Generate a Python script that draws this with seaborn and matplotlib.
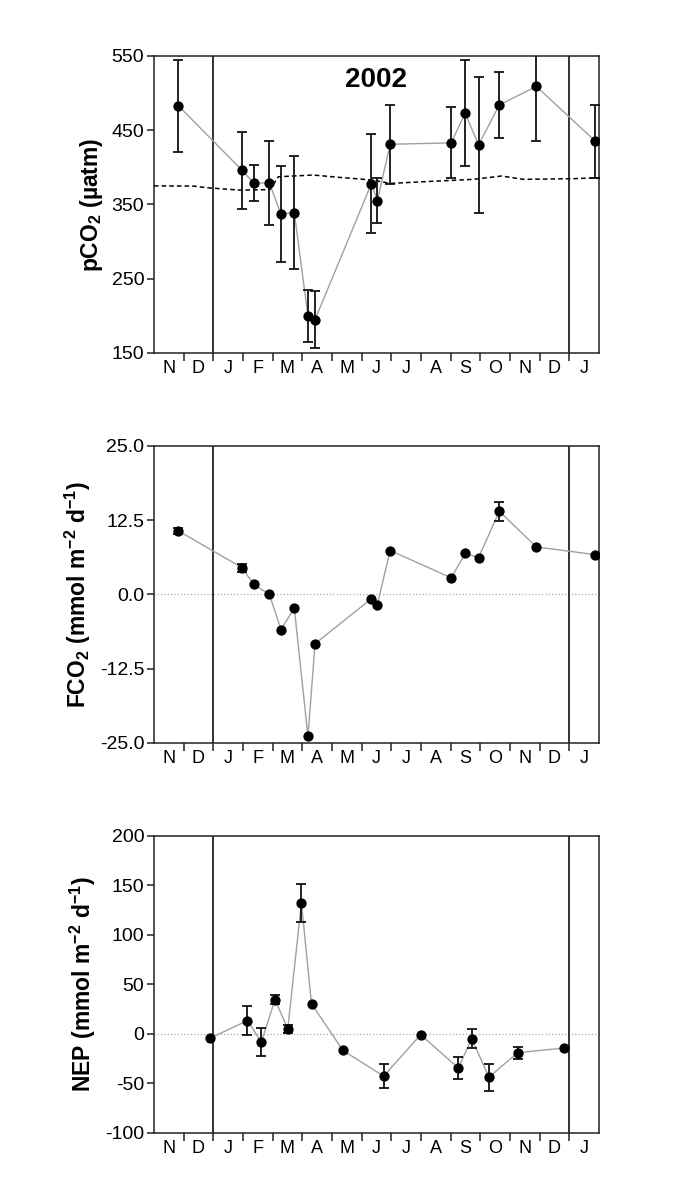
import numpy as np
import pandas as pd
import matplotlib
matplotlib.use("Agg")
import matplotlib.pyplot as plt
import seaborn as sns

# x positions are months since 1 Nov 2001 (0 = start of Nov 2001)
month_labels = ["N", "D", "J", "F", "M", "A", "M", "J", "J", "A", "S", "O", "N", "D", "J"]

# --- pCO2 ---
pco2_month = [0.82, 2.97, 3.36, 3.89, 4.28, 4.73, 5.19, 5.43, 7.33, 7.53, 7.96,
              10.02, 10.49, 10.94, 11.64, 12.89, 14.88]
pco2 = [483, 396, 379, 379, 337, 339, 200, 195, 378, 355, 431,
        433, 473, 430, 484, 509, 435]
pco2_err = [62, 52, 24, 57, 65, 76, 35, 38, 67, 30, 53,
            48, 71, 91, 45, 73, 49]

# atmospheric pCO2 (dashed)
atm_month = [0, 1.33, 1.78, 2.9, 3.91, 4.19, 5.37, 6.27, 7.39, 7.96, 9.08,
             10.76, 11.72, 12.45, 14.13, 15]
atm_pco2 = [375, 374.7, 372.5, 369.3, 370, 387.3, 389.6, 386.4, 382.8, 378.3, 380.6,
            383.8, 388.3, 383.8, 384.7, 386]

# --- FCO2 ---
fco2 = [10.7, 4.5, 1.7, 0.0, -5.9, -2.3, -23.9, -8.3, -0.7, -1.7, 7.4,
        2.8, 6.9, 6.2, 14.0, 8.0, 6.7]
fco2_err = [0.5, 0.7, 0, 0, 0, 0, 0, 0, 0, 0, 0,
            0, 0, 0, 1.6, 0, 0]

# --- NEP ---
nep_month = [1.88, 3.15, 3.62, 4.08, 4.51, 4.97, 5.31, 6.37, 7.74, 8.99,
             10.26, 10.71, 11.29, 12.26, 13.82]
nep = [-4.4, 13.5, -8.1, 34.8, 5.1, 132.4, 30.4, -16.6, -42.6, -0.7,
       -34.5, -4.7, -43.6, -18.9, -14.2]
nep_err = [0, 15, 14.5, 5, 4.4, 19, 0, 0, 12, 0,
           11, 9.8, 13.5, 6, 0]

year_bounds = [2, 14]

sns.set_theme(style="ticks")
plt.rcParams['font.family'] = ['Liberation Sans', 'DejaVu Sans']
plt.rcParams['mathtext.fontset'] = 'custom'
plt.rcParams['mathtext.rm'] = 'Liberation Sans'
plt.rcParams['mathtext.bf'] = 'Liberation Sans:bold'
for key in ['text.color', 'axes.labelcolor', 'xtick.color', 'ytick.color']:
    plt.rcParams[key] = 'black'

fig = plt.figure(figsize=(6.85, 12.03), dpi=100)
left, width, height = 0.2248, 0.6496, 0.2469
ax1 = fig.add_axes([left, 0.7066, width, height])
ax2 = fig.add_axes([left, 0.3824, width, height])
ax3 = fig.add_axes([left, 0.0582, width, height])


def draw_panel(ax, x, y, err, ylim, yticks, yfmt, ylabel, zero_line):
    df = pd.DataFrame({"month": x, "value": y})
    if zero_line:
        ax.axhline(0, color="#aaaaaa", lw=0.9, ls=":", zorder=1)
    for b in year_bounds:
        ax.axvline(b, color="#222222", lw=1.3, zorder=2)
    sns.lineplot(data=df, x="month", y="value", ax=ax, color="#a0a0a0",
                 lw=1.0, sort=False, zorder=3)
    e = np.array(err, dtype=float)
    mask = e > 0
    ax.errorbar(np.array(x)[mask], np.array(y)[mask], yerr=e[mask], fmt="none",
                ecolor="#111111", elinewidth=1.3, capsize=3.8, capthick=1.3, zorder=4)
    sns.scatterplot(data=df, x="month", y="value", ax=ax, color="black",
                    s=55, edgecolor="black", linewidth=0, zorder=5)
    ax.set_xlim(0, 15)
    ax.set_ylim(*ylim)
    ax.set_yticks(yticks)
    ax.set_yticklabels([yfmt.format(v) for v in yticks])
    ax.set_xticks(np.arange(1, 15))
    ax.set_xticklabels([])
    ax.set_xticks(np.arange(15) + 0.5, minor=True)
    ax.set_xticklabels(month_labels, minor=True)
    ax.tick_params(axis="x", which="major", direction="out", length=6, width=1.1, color="#222222")
    ax.tick_params(axis="x", which="minor", length=0, pad=5, labelsize=13)
    ax.tick_params(axis="y", direction="out", length=5, width=1.1, color="#222222",
                   labelsize=14, pad=2)
    ax.set_xlabel("")
    ax.set_ylabel(ylabel, fontsize=16.5, fontweight="bold", labelpad=5)
    for s in ax.spines.values():
        s.set_visible(True)
        s.set_linewidth(1.1)
        s.set_color("#222222")


draw_panel(ax1, pco2_month, pco2, pco2_err, (150, 550), [150, 250, 350, 450, 550],
           "{:.0f}", r"$\mathbf{pCO_2}$ (µatm)", False)
ax1.plot(atm_month, atm_pco2, color="black", lw=1.1, ls=(0, (3, 2)), zorder=3)
ax1.text(7.5, 517, "2002", ha="center", va="center", fontsize=20, fontweight="bold")

draw_panel(ax2, pco2_month, fco2, fco2_err, (-25, 25), [-25, -12.5, 0, 12.5, 25],
           "{:.1f}", r"$\mathbf{FCO_2}$ (mmol m$^{\mathbf{-2}}$ d$^{\mathbf{-1}}$)", True)

draw_panel(ax3, nep_month, nep, nep_err, (-100, 200), [-100, -50, 0, 50, 100, 150, 200],
           "{:.0f}", r"NEP (mmol m$^{\mathbf{-2}}$ d$^{\mathbf{-1}}$)", True)

fig.savefig("out.png", dpi=100)
